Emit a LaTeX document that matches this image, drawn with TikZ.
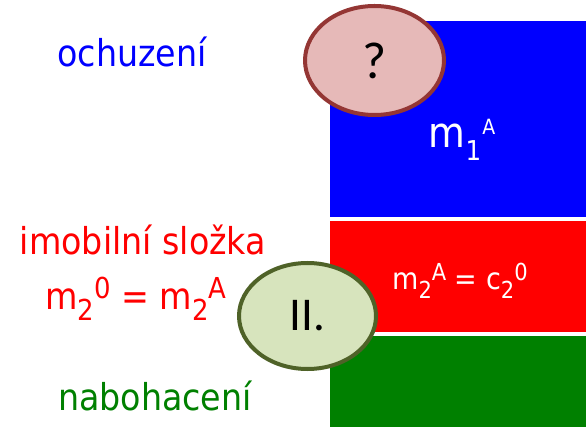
\documentclass[tikz,border=0pt]{standalone}
\usepackage{fontspec}
\setmainfont{DejaVu Sans Condensed}
\newfontfamily\calib{Carlito}
\usetikzlibrary{shapes.geometric}
\definecolor{qfill}{HTML}{E6B9B8}
\definecolor{qline}{HTML}{943634}
\definecolor{gfill}{HTML}{D7E4BD}
\definecolor{gline}{HTML}{4F6228}
\definecolor{dgreen}{HTML}{008000}
\newcommand\dn[1]{\raisebox{-0.28em}{\scalebox{0.78}{#1}}}
\newcommand\up[1]{\raisebox{0.30em}{\scalebox{0.78}{#1}}}
\begin{document}
\begin{tikzpicture}[x=1pt,y=-1pt,
  lbl/.style={anchor=base,inner sep=0pt,font=\fontsize{37}{40}\selectfont},
  oval/.style={ellipse,line width=4pt,inner sep=0pt,font=\calib\fontsize{47}{50}\selectfont}]
\useasboundingbox (0,0) rectangle (586,427);
\fill[blue] (330,21) rectangle (586,217);
\fill[red] (330,221) rectangle (586,332);
\fill[dgreen] (330,336) rectangle (586,427);
\node[lbl,text=blue] (ochuz) at (132,67) {ochuzení};
\node[lbl,text=red] (imob) at (143,255) {imobilní složka};
\node[lbl,text=red] (eqa) at (136,310) {m\dn{2}\up{0} = m\dn{2}\up{A}};
\node[lbl,text=dgreen] (nab) at (155,410) {nabohacení};
\node[lbl,text=white,font=\fontsize{42}{46}\selectfont] (m1) at (462,148) {m\raisebox{-0.3em}{\scalebox{0.65}{1}}\kern1pt\raisebox{0.33em}{\scalebox{0.5}{A}}};
\node[lbl,text=white,font=\fontsize{30}{33}\selectfont] (eqb) at (460,290) {m\dn{2}\up{A} = c\dn{2}\up{0}};
\node[oval,draw=qline,fill=qfill,minimum width=139,minimum height=109] (q) at (374.5,60.5) {\fontsize{52}{56}\selectfont ?};
\node[oval,draw=gline,fill=gfill,minimum width=137,minimum height=106] (ii) at (307.5,316) {II.};
\end{tikzpicture}
\end{document}
